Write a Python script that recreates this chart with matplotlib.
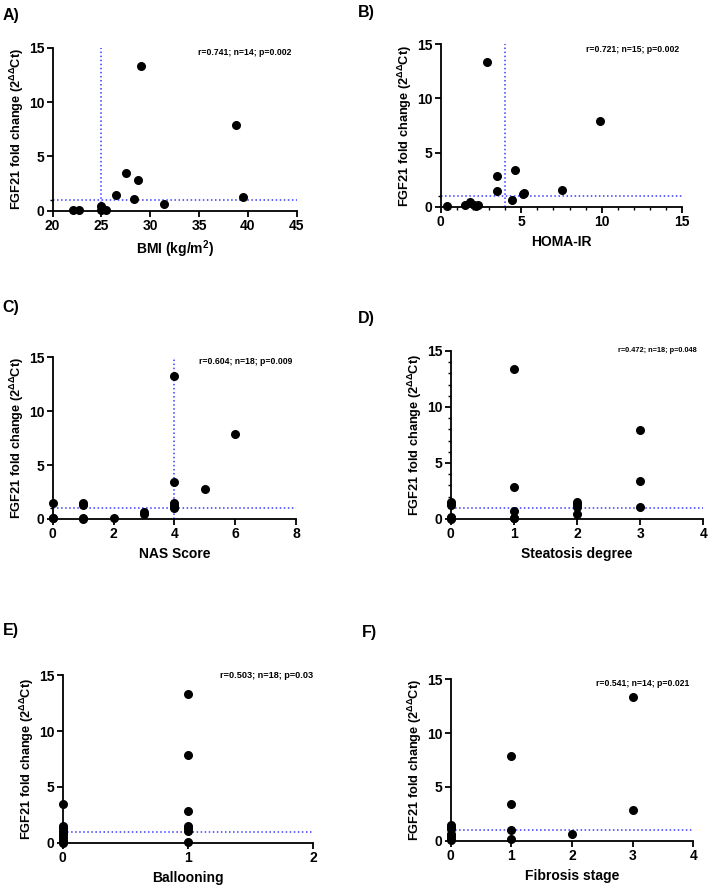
import numpy as np
import matplotlib.pyplot as plt
from matplotlib.ticker import MultipleLocator, FixedLocator

plt.rcParams['font.family'] = ['Liberation Sans', 'DejaVu Sans']
plt.rcParams['font.weight'] = 'bold'
plt.rcParams['mathtext.fontset'] = 'custom'
plt.rcParams['mathtext.rm'] = 'Liberation Sans:bold'
plt.rcParams['mathtext.it'] = 'Liberation Sans:bold'
plt.rcParams['mathtext.bf'] = 'Liberation Sans:bold'

# A) BMI
bmi = [22.1, 22.7, 25.0, 25.0, 25.1, 25.5, 26.5, 27.5, 28.7, 28.3, 29.0, 31.4, 38.8, 39.5]
bmi_fgf = [0.05, 0.1, 0.45, 0.1, 0.2, 0.05, 1.42, 3.43, 2.81, 1.05, 13.33, 0.65, 7.85, 1.3]

# B) HOMA-IR
homa = [0.4, 1.5, 1.8, 2.05, 2.2, 2.3, 2.9, 3.5, 3.5, 4.4, 4.6, 5.1, 5.2, 7.5, 9.9]
homa_fgf = [0.05, 0.15, 0.45, 0.15, 0.1, 0.15, 13.36, 2.8, 1.42, 0.65, 3.43, 1.14, 1.3, 1.5, 7.9]

# C) NAS score
nas = [0, 0, 0, 1, 1, 1, 2, 3, 3, 4, 4, 4, 4, 4, 4, 5, 6, 1]
nas_fgf = [1.45, 0.05, 0.1, 1.45, 1.3, 0.03, 0.05, 0.62, 0.45, 13.3, 3.4, 1.45, 1.2, 1.0, 1.1, 2.8, 7.86, 0.1]

# D) Steatosis degree
steatosis = [0, 0, 0, 0, 0, 0, 1, 1, 1, 1, 1, 2, 2, 2, 2, 3, 3, 3]
steatosis_fgf = [1.48, 1.25, 1.35, 0.1, 0.0, 0.15, 13.4, 2.82, 0.68, 0.05, 0.1, 1.48, 1.3, 1.04, 0.48, 7.9, 3.42, 1.04]

# E) Ballooning
ballooning = [0, 0, 0, 0, 0, 0, 0, 0, 0, 0, 0, 1, 1, 1, 1, 1, 1, 1]
ballooning_fgf = [3.43, 1.48, 1.4, 1.3, 1.04, 0.8, 0.65, 0.45, 0.15, 0.05, 0.0,
                  13.35, 7.87, 2.81, 1.47, 1.3, 1.04, 0.1]

# F) Fibrosis stage
fibrosis = [0, 0, 0, 0, 0, 0, 0, 1, 1, 1, 1, 2, 3, 3]
fibrosis_fgf = [1.49, 1.27, 1.1, 0.6, 0.47, 0.15, 0.03, 7.89, 3.45, 1.02, 0.12, 0.62, 13.38, 2.83]

ylab = 'FGF21 fold change (2$^{\\Delta\\Delta}$Ct)'
blue = '#3a3aff'

fig = plt.figure(figsize=(7.09, 8.85), dpi=100)


def panel(rect, x, y, xlim, xticks, xlabel, stats, stats_pos, stats_size, letter, letter_pos,
          vline=None, xminor=None, yminor=False):
    ax = fig.add_axes(rect)
    ax.scatter(x, y, s=30, color='black', zorder=3, clip_on=False)
    ax.set_xlim(*xlim)
    ax.set_ylim(0, 15)
    ax.axhline(1, color=blue, linestyle=':', linewidth=1.1, zorder=2)
    if vline is not None:
        ax.axvline(vline, color=blue, linestyle=':', linewidth=1.1, zorder=2)
    for s in ['top', 'right']:
        ax.spines[s].set_visible(False)
    for s in ['left', 'bottom']:
        ax.spines[s].set_linewidth(1.3)
    ax.set_xticks(xticks)
    ax.set_yticks([0, 5, 10, 15])
    if yminor:
        ax.yaxis.set_minor_locator(MultipleLocator(1))
    else:
        ax.yaxis.set_minor_locator(FixedLocator([1]))
    if xminor:
        ax.xaxis.set_minor_locator(MultipleLocator(xminor))
    ax.tick_params(which='major', width=1.3, length=4.5, labelsize=10, pad=1.5)
    ax.tick_params(which='minor', width=1.0, length=2.5)
    for lab in ax.get_xticklabels() + ax.get_yticklabels():
        lab.set_fontweight('bold')
    ax.set_xlabel(xlabel, fontsize=10, fontweight='bold', labelpad=4)
    ax.set_ylabel(ylab, fontsize=9.2, fontweight='bold', labelpad=2)
    ax.text(stats_pos[0], stats_pos[1], stats, transform=ax.transAxes, ha='right', va='center',
            fontsize=stats_size, fontweight='bold')
    fig.text(letter_pos[0], letter_pos[1], letter, fontsize=11.5, fontweight='bold', ha='left', va='center')
    return ax


panel([0.0743, 0.7619, 0.3442, 0.1842], bmi, bmi_fgf, (20, 45), [20, 25, 30, 35, 40, 45],
      'BMI (kg/m$^2$)', 'r=0.741; n=14; p=0.002', (0.98, 0.97), 6.2, 'A)', (0.004, 0.983), vline=25)
panel([0.6216, 0.7664, 0.3408, 0.1835], homa, homa_fgf, (0, 15), [0, 5, 10, 15],
      'HOMA-IR', 'r=0.721; n=15; p=0.002', (0.986, 0.971), 6.2, 'B)', (0.505, 0.986), vline=4, xminor=1)
panel([0.0743, 0.4136, 0.3432, 0.1827], nas, nas_fgf, (0, 8), [0, 2, 4, 6, 8],
      'NAS Score', 'r=0.604; n=18; p=0.009', (0.985, 0.973), 6.2, 'C)', (0.004, 0.653), vline=4)
panel([0.6357, 0.4136, 0.3563, 0.1898], steatosis, steatosis_fgf, (0, 4), [0, 1, 2, 3, 4],
      'Steatosis degree', 'r=0.472; n=18; p=0.048', (0.972, 1.0), 5.3, 'D)', (0.505, 0.640), yminor=True)
panel([0.0884, 0.0478, 0.3535, 0.1892], ballooning, ballooning_fgf, (0, 2), [0, 1, 2],
      'Ballooning', 'r=0.503; n=18; p=0.03', (1.0, 1.0), 6.6, 'E)', (0.004, 0.288))
panel([0.6357, 0.0501, 0.3422, 0.1824], fibrosis, fibrosis_fgf, (0, 4), [0, 1, 2, 3, 4],
      'Fibrosis stage', 'r=0.541; n=14; p=0.021', (0.982, 0.975), 6.2, 'F)', (0.51, 0.285))

fig.savefig('out.png', dpi=100)
